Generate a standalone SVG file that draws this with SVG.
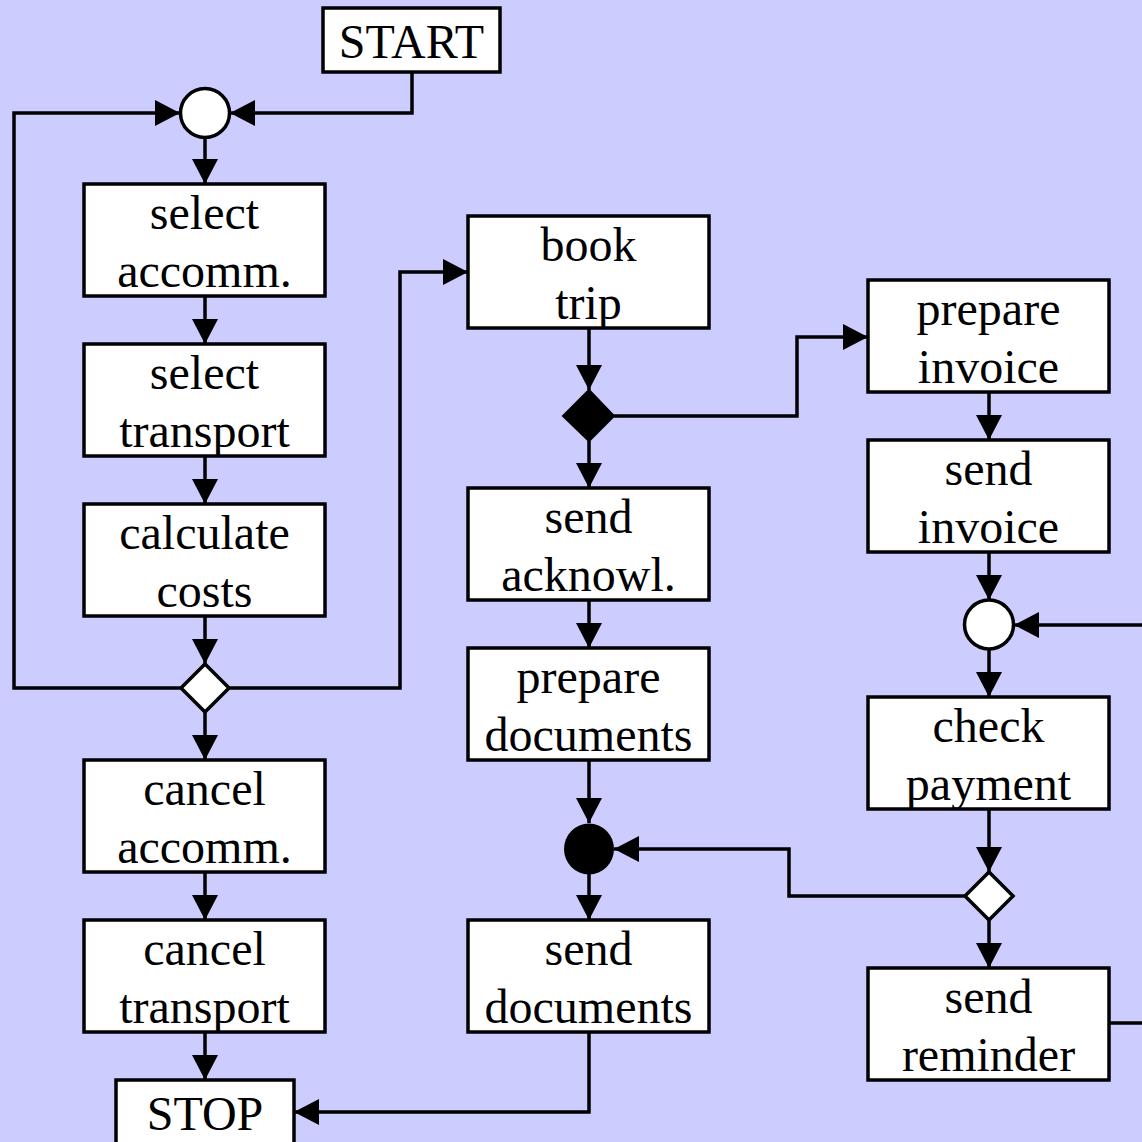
<svg xmlns="http://www.w3.org/2000/svg" width="1142" height="1142" viewBox="0 0 1142 1142">
<style>
.bx{fill:#fff;stroke:#000;stroke-width:3.5}
.t{font-family:"Liberation Serif","Times New Roman",serif;font-size:48px;fill:#000;text-anchor:middle}
.c{fill:none;stroke:#000;stroke-width:3.5;marker-end:url(#a)}
.n{fill:none;stroke:#000;stroke-width:3.5}
</style>
<defs>
<marker id="a" markerWidth="25" markerHeight="26" refX="25" refY="13" orient="auto" markerUnits="userSpaceOnUse"><path d="M0,0 L25,13 L0,26 z" fill="#000"/></marker>
</defs>
<rect width="1142" height="1142" fill="#ccccff"/>
<g id="connectors">
<path class="c" d="M412,72 V113 H230"/>
<path class="c" d="M180,688 H14 V113 H180"/>
<path class="c" d="M205,138 V184"/>
<path class="c" d="M205,296 V344"/>
<path class="c" d="M205,456 V504"/>
<path class="c" d="M205,616 V664"/>
<path class="c" d="M205,712 V760"/>
<path class="c" d="M205,872 V920"/>
<path class="c" d="M205,1032 V1080"/>
<path class="c" d="M229,688 H400 V272 H468"/>
<path class="c" d="M589,328 V390"/>
<path class="c" d="M589,441 V488"/>
<path class="c" d="M614,416 H797 V337 H868"/>
<path class="c" d="M589,600 V648"/>
<path class="c" d="M589,760 V823"/>
<path class="c" d="M589,874 V920"/>
<path class="c" d="M589,1032 V1112 H294"/>
<path class="c" d="M989,392 V440"/>
<path class="c" d="M989,552 V600"/>
<path class="c" d="M989,649 V697"/>
<path class="c" d="M989,809 V872"/>
<path class="c" d="M989,920 V968"/>
<path class="c" d="M964,896 H789 V849 H614"/>
<path class="c" d="M1109,1023 H1160 V625 H1014"/>
</g>
<g id="start"><rect class="bx" x="323" y="8" width="177" height="64"/><text class="t" x="411.5" y="58">START</text></g>
<g id="merge1"><circle cx="205" cy="113" r="24.5" class="bx"/></g>
<g id="selectAccomm"><rect class="bx" x="84" y="184" width="241" height="112"/><text class="t" x="204.5" y="229">select</text><text class="t" x="204.5" y="287">accomm.</text></g>
<g id="selectTransport"><rect class="bx" x="84" y="344" width="241" height="112"/><text class="t" x="204.5" y="389">select</text><text class="t" x="204.5" y="447">transport</text></g>
<g id="calculateCosts"><rect class="bx" x="84" y="504" width="241" height="112"/><text class="t" x="204.5" y="549">calculate</text><text class="t" x="204.5" y="607">costs</text></g>
<g id="decision1"><polygon class="bx" points="205,664 229,688 205,712 181,688"/></g>
<g id="cancelAccomm"><rect class="bx" x="84" y="760" width="241" height="112"/><text class="t" x="204.5" y="805">cancel</text><text class="t" x="204.5" y="863">accomm.</text></g>
<g id="cancelTransport"><rect class="bx" x="84" y="920" width="241" height="112"/><text class="t" x="204.5" y="965">cancel</text><text class="t" x="204.5" y="1023">transport</text></g>
<g id="stop"><rect class="bx" x="116" y="1080" width="178" height="66"/><text class="t" x="205" y="1130">STOP</text></g>
<g id="bookTrip"><rect class="bx" x="468" y="216" width="241" height="112"/><text class="t" x="588.5" y="261">book</text><text class="t" x="588.5" y="319">trip</text></g>
<g id="fork"><polygon points="589,390 614,416 589,441 563,416" fill="#000" stroke="#000" stroke-width="2"/></g>
<g id="sendAcknowl"><rect class="bx" x="468" y="488" width="241" height="112"/><text class="t" x="588.5" y="533">send</text><text class="t" x="588.5" y="591">acknowl.</text></g>
<g id="prepareDocuments"><rect class="bx" x="468" y="648" width="241" height="112"/><text class="t" x="588.5" y="693">prepare</text><text class="t" x="588.5" y="751">documents</text></g>
<g id="join"><ellipse cx="589" cy="849" rx="25" ry="25.5" fill="#000"/></g>
<g id="sendDocuments"><rect class="bx" x="468" y="920" width="241" height="112"/><text class="t" x="588.5" y="965">send</text><text class="t" x="588.5" y="1023">documents</text></g>
<g id="prepareInvoice"><rect class="bx" x="868" y="280" width="241" height="112"/><text class="t" x="988.5" y="325">prepare</text><text class="t" x="988.5" y="383">invoice</text></g>
<g id="sendInvoice"><rect class="bx" x="868" y="440" width="241" height="112"/><text class="t" x="988.5" y="485">send</text><text class="t" x="988.5" y="543">invoice</text></g>
<g id="merge2"><circle cx="989" cy="624.5" r="24.5" class="bx"/></g>
<g id="checkPayment"><rect class="bx" x="868" y="697" width="241" height="112"/><text class="t" x="988.5" y="742">check</text><text class="t" x="988.5" y="800">payment</text></g>
<g id="decision2"><polygon class="bx" points="989,872 1013,896 989,920 965,896"/></g>
<g id="sendReminder"><rect class="bx" x="868" y="968" width="241" height="112"/><text class="t" x="988.5" y="1013">send</text><text class="t" x="988.5" y="1071">reminder</text></g>
</svg>
